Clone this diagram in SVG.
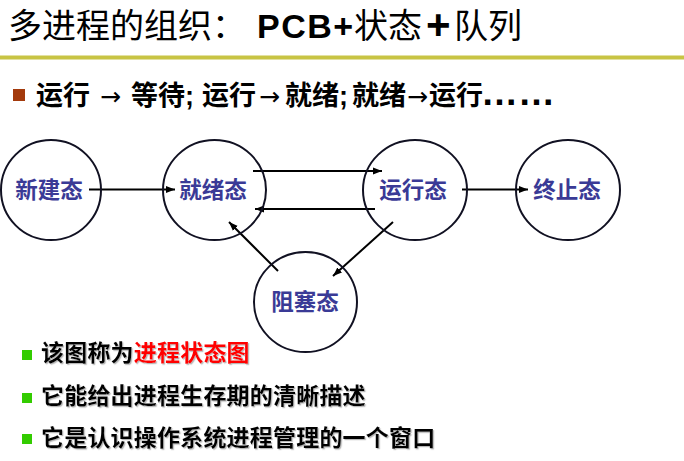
<svg xmlns="http://www.w3.org/2000/svg" width="684" height="461" viewBox="0 0 684 461">
<defs>
<marker id="arr" markerUnits="userSpaceOnUse" markerWidth="10" markerHeight="8" refX="9" refY="4" orient="auto">
<path d="M0,0.5 L9,4 L0,7.5 Z" fill="#000"/>
</marker>
<filter id="sh" x="-5%" y="-20%" width="110%" height="140%">
<feDropShadow dx="1.2" dy="1.2" stdDeviation="0.3" flood-color="#888" flood-opacity="0.6"/>
</filter>
</defs>
<style>
.cjk{font-family:"Liberation Sans","Noto Sans CJK SC",sans-serif}
.title{font-size:34px;fill:#000}
.b1{font-size:27px;fill:#000;font-weight:700}
.ar{font-family:"DejaVu Sans",sans-serif;font-weight:400;font-size:25px}
.node ellipse{fill:none;stroke:#111122;stroke-width:2}
.node text{font-family:"Noto Sans CJK SC",sans-serif;font-size:22.5px;fill:#3a3a96;font-weight:700;text-anchor:middle}
.conn line{stroke:#000;stroke-width:2;marker-end:url(#arr)}
.b2{font-size:23px;fill:#000;font-weight:700;letter-spacing:0.2px}
</style>
<rect width="684" height="461" fill="#fff"/>
<text class="cjk title" y="38"><tspan x="8">多进程的组织：</tspan><tspan x="257" font-weight="700" letter-spacing="1.5">PCB+</tspan><tspan x="354">状态</tspan><tspan x="426" font-weight="700" font-size="42" dy="1">+</tspan><tspan x="454" dy="-1">队列</tspan></text>
<rect x="0" y="55.5" width="684" height="4" fill="#c8c444"/>
<rect x="13" y="89" width="12" height="12" fill="#a33a0c"/>
<text class="cjk b1" y="105"><tspan x="36">运行</tspan><tspan class="ar" x="100">→</tspan><tspan x="131">等待;</tspan><tspan x="202">运行</tspan><tspan class="ar" x="259">→</tspan><tspan x="285">就绪;</tspan><tspan x="352">就绪</tspan><tspan class="ar" x="407">→</tspan><tspan x="429">运行</tspan><tspan x="481" font-size="37">……</tspan></text>
<g class="conn">
<line x1="89" y1="189.5" x2="175" y2="189.5"/>
<line x1="253" y1="171" x2="382" y2="171"/>
<line x1="375" y1="209" x2="255" y2="209"/>
<line x1="462" y1="189.5" x2="528" y2="189.5"/>
<line x1="393" y1="222" x2="333" y2="276"/>
<line x1="278" y1="271" x2="229" y2="222"/>
</g>
<g id="n-new" class="node"><ellipse cx="51" cy="190" rx="50" ry="50"/><text x="49" y="198">新建态</text></g>
<g id="n-ready" class="node"><ellipse cx="214.5" cy="190" rx="51.5" ry="50"/><text x="213" y="198">就绪态</text></g>
<g id="n-run" class="node"><ellipse cx="415" cy="190" rx="52" ry="50"/><text x="413" y="198">运行态</text></g>
<g id="n-end" class="node"><ellipse cx="568" cy="190" rx="52" ry="50"/><text x="567" y="198">终止态</text></g>
<g id="n-block" class="node"><ellipse cx="305.5" cy="302" rx="51.5" ry="50"/><text x="305" y="310">阻塞态</text></g>
<rect x="22" y="350" width="10" height="10" fill="#33cc00"/>
<rect x="22" y="393" width="10" height="10" fill="#33cc00"/>
<rect x="22" y="434" width="10" height="10" fill="#33cc00"/>
<g filter="url(#sh)">
<text class="cjk b2" x="41" y="361">该图称为<tspan fill="#ff0000">进程状态图</tspan></text>
<text class="cjk b2" x="41" y="404">它能给出进程生存期的清晰描述</text>
<text class="cjk b2" x="41" y="446">它是认识操作系统进程管理的一个窗口</text>
</g>
</svg>
